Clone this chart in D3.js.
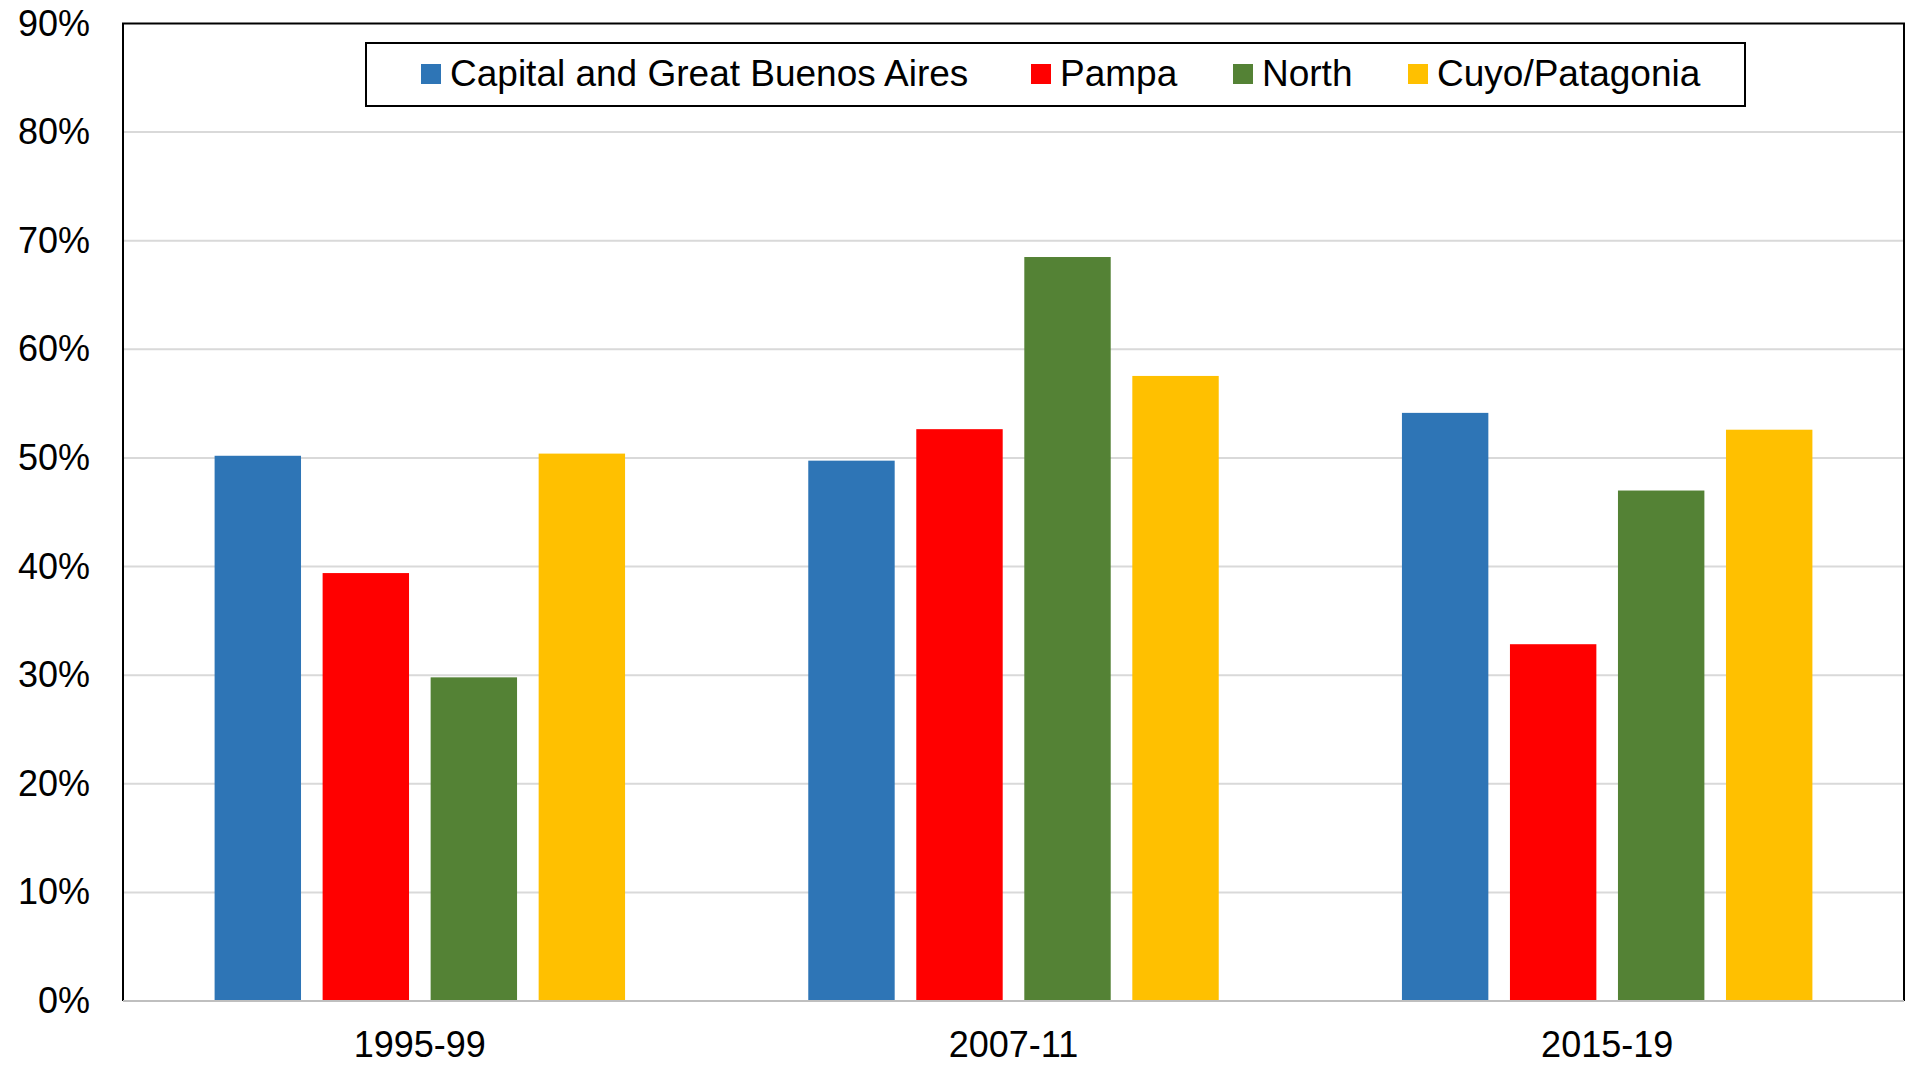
<!DOCTYPE html>
<html>
<head>
<meta charset="utf-8">
<script src="https://cdn.jsdelivr.net/npm/d3@7"></script>
<style>
  html, body { margin: 0; padding: 0; background: #fff; }
  svg { display: block; font-family: "Liberation Sans", Arial, sans-serif; }
</style>
</head>
<body>
<svg id="chart" width="1908" height="1065"></svg>
<script>
const categories = ["1995-99", "2007-11", "2015-19"];
const seriesNames = ["Capital and Great Buenos Aires", "Pampa", "North", "Cuyo/Patagonia"];
const seriesColors = ["#2E75B6", "#FF0000", "#548235", "#FFC000"];
const capitalValues = [50.2, 49.75, 54.15];
const pampaValues = [39.4, 52.65, 32.85];
const northValues = [29.8, 68.5, 47.0];
const cuyoValues = [50.4, 57.55, 52.6];
const yTicks = [0, 10, 20, 30, 40, 50, 60, 70, 80, 90];

const seriesValues = [capitalValues, pampaValues, northValues, cuyoValues];

(function () {
const svg = d3.select("#chart");
const pLeft = 123, pRight = 1904, pTop = 23.5, pBottom = 1001;

const x0 = d3.scaleBand().domain(categories).range([pLeft, pRight])
  .paddingInner(0.3086).paddingOuter(0.1543);
const x1 = d3.scaleBand().domain(seriesNames).range([0, x0.bandwidth()])
  .paddingInner(0.2).paddingOuter(0);
const y = d3.scaleLinear().domain([0, 90]).range([pBottom, pTop]);

// gridlines
svg.append("g").selectAll("line").data(yTicks.filter(d => d > 0 && d < 90)).join("line")
  .attr("x1", pLeft).attr("x2", pRight)
  .attr("y1", d => y(d)).attr("y2", d => y(d))
  .attr("stroke", "#D9D9D9").attr("stroke-width", 2);

// bars
const groups = svg.append("g").selectAll("g").data(categories).join("g")
  .attr("transform", c => `translate(${x0(c)},0)`);
groups.selectAll("rect")
  .data((c, ci) => seriesNames.map((s, si) => ({ s, si, v: seriesValues[si][ci] })))
  .join("rect")
  .attr("x", d => x1(d.s))
  .attr("width", x1.bandwidth())
  .attr("y", d => y(d.v))
  .attr("height", d => y(0) - y(d.v))
  .attr("fill", d => seriesColors[d.si]);

// frame: left, top, right black; bottom gray
svg.append("path")
  .attr("d", `M${pLeft},${pBottom} V${pTop} H${pRight} V${pBottom}`)
  .attr("fill", "none").attr("stroke", "#000").attr("stroke-width", 2);
svg.append("line")
  .attr("x1", pLeft).attr("x2", pRight).attr("y1", pBottom).attr("y2", pBottom)
  .attr("stroke", "#BFBFBF").attr("stroke-width", 2);

// y axis
const yAxis = svg.append("g").attr("transform", `translate(${pLeft},0)`)
  .call(d3.axisLeft(y).tickValues(yTicks).tickSize(0).tickPadding(33).tickFormat(d => d + "%"));
yAxis.select(".domain").remove();
yAxis.selectAll("text").attr("font-size", 36).attr("fill", "#000")
  .attr("font-family", "Liberation Sans, Arial, sans-serif");

// x axis
const xAxis = svg.append("g").attr("transform", `translate(0,${pBottom})`)
  .call(d3.axisBottom(x0).tickSize(0).tickPadding(30));
xAxis.select(".domain").remove();
xAxis.selectAll("text").attr("font-size", 36).attr("fill", "#000")
  .attr("font-family", "Liberation Sans, Arial, sans-serif");

// legend
const legend = svg.append("g");
legend.append("rect")
  .attr("x", 366).attr("y", 43).attr("width", 1379).attr("height", 63)
  .attr("fill", "#fff").attr("stroke", "#000").attr("stroke-width", 2);
const legendX = [421, 1031, 1233, 1408];
seriesNames.forEach((name, i) => {
  legend.append("rect").attr("x", legendX[i]).attr("y", 64).attr("width", 20).attr("height", 20)
    .attr("fill", seriesColors[i]);
  legend.append("text").attr("x", legendX[i] + 29).attr("y", 86)
    .attr("font-size", 37).attr("fill", "#000").text(name);
});
})();
</script>
</body>
</html>
